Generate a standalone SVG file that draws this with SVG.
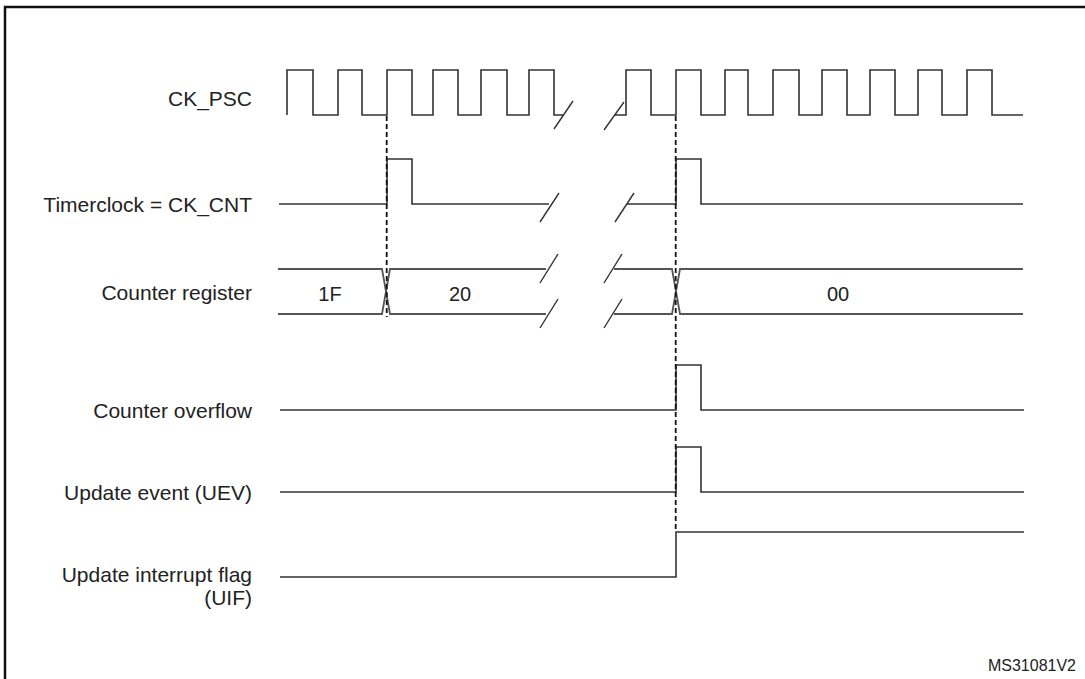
<svg xmlns="http://www.w3.org/2000/svg" width="1085" height="679" viewBox="0 0 1085 679">
<style>
.lbl{font-family:"Liberation Sans",Arial,sans-serif;font-size:21px;fill:#222;text-anchor:end}
.val{font-family:"Liberation Sans",Arial,sans-serif;font-size:20px;fill:#222;text-anchor:middle}
.note{font-family:"Liberation Sans",Arial,sans-serif;font-size:16px;fill:#222;text-anchor:end}
.wave{fill:none;stroke:#333;stroke-width:1.6;stroke-linejoin:miter}
.bus{fill:none;stroke:#555;stroke-width:1.8}
.brk{fill:none;stroke:#333;stroke-width:1.4}
.dash{fill:none;stroke:#111;stroke-width:1.8;stroke-dasharray:5 3}
</style>
<rect width="1085" height="679" fill="#fff"/>
<rect x="5" y="7" width="1090" height="690" fill="none" stroke="#111" stroke-width="2.5"/>

<g id="ck_psc">
<text class="lbl" x="252" y="105.5">CK_PSC</text>
<path class="wave" d="M287,115 V70 H313 V115 H338 V70 H362 V115 H387 V70 H412 V115 H433 V70 H458 V115 H481 V70 H507 V115 H529 V70 H554 V115 H563"/>
<path class="wave" d="M615,115 H626 V70 H651 V115 H676 V70 H701 V115 H725 V70 H748 V115 H773 V70 H799 V115 H822 V70 H847 V115 H870 V70 H895 V115 H918 V70 H942 V115 H967 V70 H992 V115 H1023"/>
<path class="brk" d="M554,129 L573,101 M604,130 L624,102"/>
</g>

<g id="ck_cnt">
<text class="lbl" x="252" y="211.5">Timerclock = CK_CNT</text>
<path class="wave" d="M279,204 H387 V159 H412 V204 H549"/>
<path class="wave" d="M627,204 H676 V159 H701 V204 H1023"/>
<path class="brk" d="M540,222 L559,193 M615,222 L634,193"/>
</g>

<g id="counter_register">
<text class="lbl" x="252" y="300">Counter register</text>
<path class="bus" d="M278,269 H382 L390,314 H546 M278,314 H382 L390,269 H546"/>
<path class="bus" d="M614,269 H672 L680,314 H1023 M614,314 H672 L680,269 H1023"/>
<path class="brk" d="M540,283 L558,254 M540,328 L558,299 M604,283 L622,254 M604,328 L622,299"/>
<text class="val" x="330" y="300.5">1F</text>
<text class="val" x="460" y="301">20</text>
<text class="val" x="838" y="301">00</text>
</g>

<g id="counter_overflow">
<text class="lbl" x="252" y="417.5">Counter overflow</text>
<path class="wave" d="M280,410 H676 V365 H701 V410 H1024"/>
</g>

<g id="update_event">
<text class="lbl" x="252" y="500">Update event (UEV)</text>
<path class="wave" d="M280,492 H676 V447 H701 V492 H1024"/>
</g>

<g id="uif">
<text class="lbl" x="252" y="582">Update interrupt flag</text>
<text class="lbl" x="252" y="605">(UIF)</text>
<path class="wave" d="M280,577 H676 V532 H1024"/>
</g>

<g id="connectors">
<line class="dash" x1="386.7" y1="116" x2="386.7" y2="317"/>
<line class="dash" x1="675.7" y1="116" x2="675.7" y2="532"/>
</g>

<text class="note" x="1076" y="671">MS31081V2</text>
</svg>
